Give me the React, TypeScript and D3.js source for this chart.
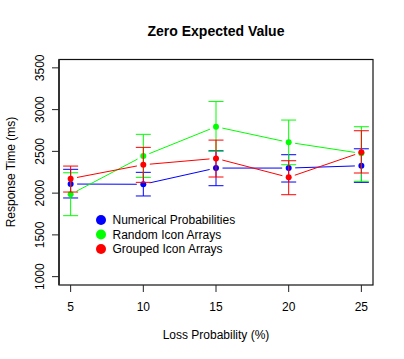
import React from "react";
import * as d3 from "d3";

const lossProb = [5, 10, 15, 20, 25];
const seriesNames = ["Numerical Probabilities", "Random Icon Arrays", "Grouped Icon Arrays"];
const seriesColors = ["#0000FF", "#00FF00", "#FF0000"];
const numMean = [2109, 2106, 2300, 2300, 2328];
const numLow = [1942, 1966, 2089, 2133, 2129];
const numHigh = [2285, 2249, 2507, 2460, 2531];
const randMean = [1986, 2444, 2795, 2608, 2476];
const randLow = [1730, 2189, 2500, 2340, 2141];
const randHigh = [2244, 2704, 3098, 2875, 2795];
const groupMean = [2173, 2340, 2416, 2189, 2488];
const groupLow = [2013, 2129, 2193, 1981, 2241];
const groupHigh = [2324, 2548, 2635, 2388, 2747];
const yTicks = [1000, 1500, 2000, 2500, 3000, 3500];
const xTicks = [5, 10, 15, 20, 25];

const W = 404, H = 359;
const L = 59, R = 373, T = 59.5, B = 285;
const FONT = "'Liberation Sans', Arial, Helvetica, sans-serif";

export default function App() {
  const x = d3.scaleLinear().domain([4.2, 25.8]).range([L, R]);
  const y = d3.scaleLinear().domain([900, 3600]).range([B, T]);
  const series = [
    { mean: numMean, low: numLow, high: numHigh },
    { mean: randMean, low: randLow, high: randHigh },
    { mean: groupMean, low: groupLow, high: groupHigh },
  ];
  const gap = 6.5;
  const cap = 7.5;
  return (
    <svg width={W} height={H} style={{ position: "absolute", left: 0, top: 0, background: "#fff" }} fontFamily={FONT}>
      <text x={216} y={35.5} textAnchor="middle" fontWeight="bold" fontSize={14}>Zero Expected Value</text>
      {series.map((s, si) => {
        const col = seriesColors[si];
        const pts = lossProb.map((p, i) => [x(p), y(s.mean[i])]);
        const segs = [];
        for (let i = 0; i < pts.length - 1; i++) {
          const [x1, y1] = pts[i];
          const [x2, y2] = pts[i + 1];
          const len = Math.hypot(x2 - x1, y2 - y1);
          const ux = (x2 - x1) / len, uy = (y2 - y1) / len;
          segs.push(
            <line key={"s" + i} x1={x1 + ux * gap} y1={y1 + uy * gap} x2={x2 - ux * gap} y2={y2 - uy * gap} stroke={col} strokeWidth={1} />
          );
        }
        return (
          <g key={si}>
            {lossProb.map((p, i) => (
              <g key={"e" + i} stroke={col} strokeWidth={1}>
                <line x1={x(p)} x2={x(p)} y1={y(s.low[i])} y2={y(s.high[i])} />
                <line x1={x(p) - cap} x2={x(p) + cap} y1={y(s.low[i])} y2={y(s.low[i])} />
                <line x1={x(p) - cap} x2={x(p) + cap} y1={y(s.high[i])} y2={y(s.high[i])} />
              </g>
            ))}
            {segs}
            {pts.map(([px, py], i) => (
              <circle key={"p" + i} cx={px} cy={py} r={3} fill={col} />
            ))}
          </g>
        );
      })}
      <rect x={L} y={T} width={R - L} height={B - T} fill="none" stroke="#111" strokeWidth={1.2} />
      <line x1={L} x2={L} y1={T} y2={B} stroke="#333" strokeWidth={2} />
      {yTicks.map((t) => (
        <g key={"y" + t}>
          <line x1={L} x2={L - 7} y1={y(t)} y2={y(t)} stroke="#222" />
          <text transform={`translate(${43.5},${y(t)}) rotate(-90)`} textAnchor="middle" fontSize={12}>{t}</text>
        </g>
      ))}
      {xTicks.map((t) => (
        <g key={"x" + t}>
          <line x1={x(t)} x2={x(t)} y1={B} y2={B + 7} stroke="#222" />
          <text x={x(t)} y={311} textAnchor="middle" fontSize={12}>{t}</text>
        </g>
      ))}
      <text transform={`translate(${15},${172}) rotate(-90)`} textAnchor="middle" fontSize={12}>Response Time (ms)</text>
      <text x={216} y={339} textAnchor="middle" fontSize={12}>Loss Probability (%)</text>
      {seriesNames.map((n, i) => (
        <g key={"l" + i}>
          <circle cx={101} cy={220 + i * 14.5} r={5} fill={seriesColors[i]} />
          <text x={112.5} y={224.3 + i * 14.5} fontSize={12}>{n}</text>
        </g>
      ))}
    </svg>
  );
}
